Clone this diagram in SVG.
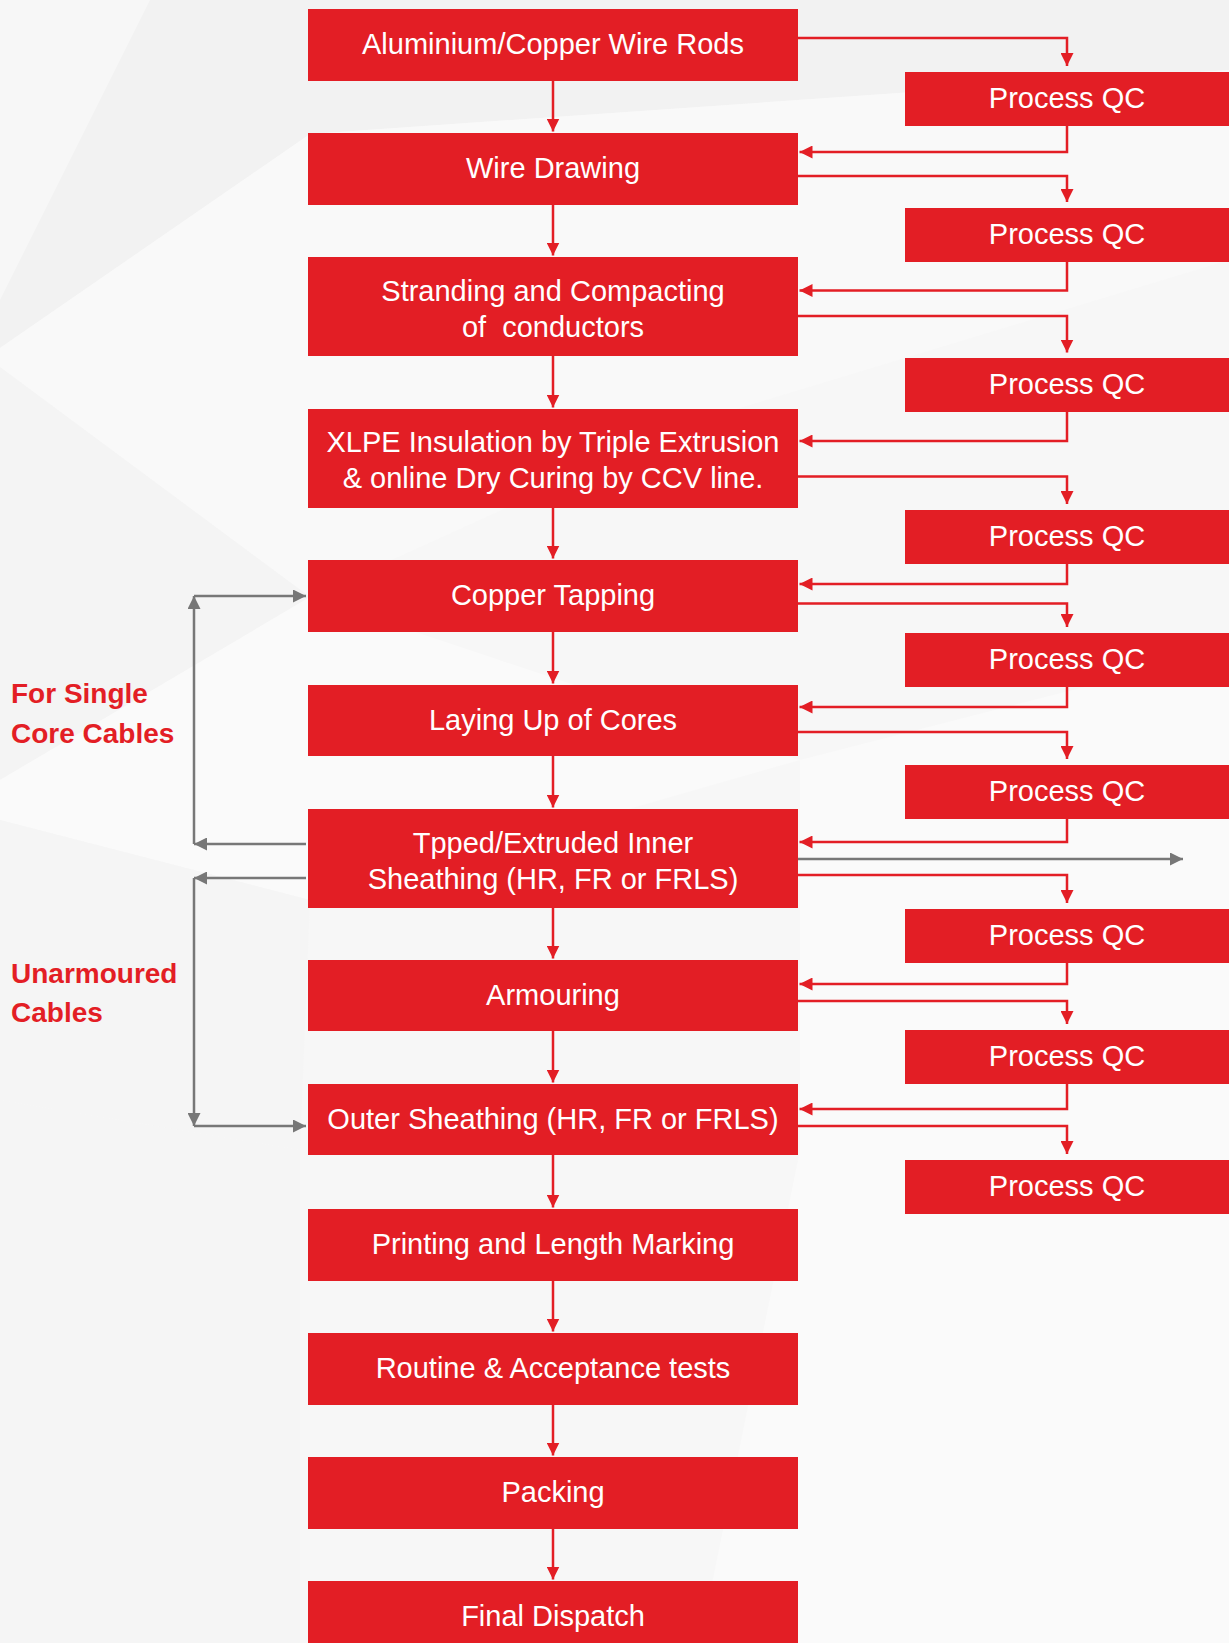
<svg xmlns="http://www.w3.org/2000/svg" width="1229" height="1643" viewBox="0 0 1229 1643">
<defs>
<style>
.box{fill:#e31e25}
.t{font-family:"Liberation Sans",Arial,sans-serif;font-size:29px;fill:#ffffff;text-anchor:middle}
.lbl{font-family:"Liberation Sans",Arial,sans-serif;font-size:28px;font-weight:bold;fill:#e31e25}
.r{fill:none;stroke:#e31e25;stroke-width:2.5;marker-end:url(#ar)}
.g{fill:none;stroke:#777777;stroke-width:2.5;marker-end:url(#ag)}
</style>
<marker id="ar" viewBox="0 0 13 13" markerWidth="13" markerHeight="13" refX="13" refY="6.5" orient="auto" markerUnits="userSpaceOnUse"><path d="M0,0 L13,6.5 L0,13 z" fill="#e31e25"/></marker>
<marker id="ag" viewBox="0 0 13 13" markerWidth="13" markerHeight="13" refX="13" refY="6.5" orient="auto" markerUnits="userSpaceOnUse"><path d="M0,0 L13,6.5 L0,13 z" fill="#777777"/></marker>
</defs>
<g id="background">
<rect x="0" y="0" width="1229" height="1643" fill="#f7f7f7"/>
<polygon points="150,0 1229,0 1229,70 310,134 0,348 0,300" fill="#f2f2f2"/>
<polygon points="0,348 310,134 1229,70 1229,260 700,420 310,597 0,367" fill="#f9f9f9"/>
<polygon points="0,367 310,597 0,780" fill="#f4f4f4"/>
<polygon points="0,780 310,597 800,760 310,900 0,820" fill="#fafafa"/>
<polygon points="0,820 310,900 300,1150 0,1100" fill="#f5f5f5"/>
<polygon points="800,760 1229,650 1229,1643 700,1643 800,1150" fill="#fafafa"/>
<polygon points="0,1100 300,1150 300,1643 0,1643" fill="#f5f5f5"/>
</g>
<g id="connectors">
<path class="r" d="M553,81 V131.5"/>
<path class="r" d="M553,205 V255.5"/>
<path class="r" d="M553,356 V407.5"/>
<path class="r" d="M553,508 V558.5"/>
<path class="r" d="M553,632 V683.5"/>
<path class="r" d="M553,756 V807.5"/>
<path class="r" d="M553,908 V958.5"/>
<path class="r" d="M553,1031 V1082.5"/>
<path class="r" d="M553,1155 V1207.5"/>
<path class="r" d="M553,1281 V1331.5"/>
<path class="r" d="M553,1405 V1455.5"/>
<path class="r" d="M553,1529 V1579.5"/>
<path class="r" d="M798,38 H1067 V66"/>
<path class="r" d="M798,176 H1067 V202"/>
<path class="r" d="M798,316 H1067 V352.5"/>
<path class="r" d="M798,476.5 H1067 V504"/>
<path class="r" d="M798,603.5 H1067 V627"/>
<path class="r" d="M798,732 H1067 V759"/>
<path class="r" d="M798,875 H1067 V903"/>
<path class="r" d="M798,1001 H1067 V1024"/>
<path class="r" d="M798,1126 H1067 V1154"/>
<path class="r" d="M1067,126 V152 H799.5"/>
<path class="r" d="M1067,262 V290.5 H799.5"/>
<path class="r" d="M1067,412 V441 H799.5"/>
<path class="r" d="M1067,564 V584 H799.5"/>
<path class="r" d="M1067,687 V707 H799.5"/>
<path class="r" d="M1067,819 V842 H799.5"/>
<path class="r" d="M1067,963 V984 H799.5"/>
<path class="r" d="M1067,1084 V1109 H799.5"/>
<path class="g" d="M798,859 H1183"/>
<path class="g" d="M306,844 H194"/>
<path class="g" d="M194,844 V596"/>
<path class="g" d="M194,596 H306"/>
<path class="g" d="M306,878 H194"/>
<path class="g" d="M194,878 V1126"/>
<path class="g" d="M194,1126 H306"/>
</g>
<g id="n1"><rect class="box" x="308" y="9" width="490" height="72"/><text class="t" x="553" y="54">Aluminium/Copper Wire Rods</text></g>
<g id="n2"><rect class="box" x="308" y="133" width="490" height="72"/><text class="t" x="553" y="178">Wire Drawing</text></g>
<g id="n3"><rect class="box" x="308" y="257" width="490" height="99"/><text class="t" x="553" y="301">Stranding and Compacting</text><text class="t" x="553" y="337" style="white-space:pre">of  conductors</text></g>
<g id="n4"><rect class="box" x="308" y="409" width="490" height="99"/><text class="t" x="553" y="452">XLPE Insulation by Triple Extrusion</text><text class="t" x="553" y="488">&amp; online Dry Curing by CCV line.</text></g>
<g id="n5"><rect class="box" x="308" y="560" width="490" height="72"/><text class="t" x="553" y="605">Copper Tapping</text></g>
<g id="n6"><rect class="box" x="308" y="685" width="490" height="71"/><text class="t" x="553" y="729.5">Laying Up of Cores</text></g>
<g id="n7"><rect class="box" x="308" y="809" width="490" height="99"/><text class="t" x="553" y="853">Tpped/Extruded Inner</text><text class="t" x="553" y="889">Sheathing (HR, FR or FRLS)</text></g>
<g id="n8"><rect class="box" x="308" y="960" width="490" height="71"/><text class="t" x="553" y="1004.5">Armouring</text></g>
<g id="n9"><rect class="box" x="308" y="1084" width="490" height="71"/><text class="t" x="553" y="1128.5">Outer Sheathing (HR, FR or FRLS)</text></g>
<g id="n10"><rect class="box" x="308" y="1209" width="490" height="72"/><text class="t" x="553" y="1254">Printing and Length Marking</text></g>
<g id="n11"><rect class="box" x="308" y="1333" width="490" height="72"/><text class="t" x="553" y="1378">Routine &amp; Acceptance tests</text></g>
<g id="n12"><rect class="box" x="308" y="1457" width="490" height="72"/><text class="t" x="553" y="1502">Packing</text></g>
<g id="n13"><rect class="box" x="308" y="1581" width="490" height="70"/><text class="t" x="553" y="1626">Final Dispatch</text></g>
<g id="qc1"><rect class="box" x="905" y="72" width="330" height="54"/><text class="t" x="1067" y="108">Process QC</text></g>
<g id="qc2"><rect class="box" x="905" y="208" width="330" height="54"/><text class="t" x="1067" y="244">Process QC</text></g>
<g id="qc3"><rect class="box" x="905" y="358" width="330" height="54"/><text class="t" x="1067" y="394">Process QC</text></g>
<g id="qc4"><rect class="box" x="905" y="510" width="330" height="54"/><text class="t" x="1067" y="546">Process QC</text></g>
<g id="qc5"><rect class="box" x="905" y="633" width="330" height="54"/><text class="t" x="1067" y="669">Process QC</text></g>
<g id="qc6"><rect class="box" x="905" y="765" width="330" height="54"/><text class="t" x="1067" y="801">Process QC</text></g>
<g id="qc7"><rect class="box" x="905" y="909" width="330" height="54"/><text class="t" x="1067" y="945">Process QC</text></g>
<g id="qc8"><rect class="box" x="905" y="1030" width="330" height="54"/><text class="t" x="1067" y="1066">Process QC</text></g>
<g id="qc9"><rect class="box" x="905" y="1160" width="330" height="54"/><text class="t" x="1067" y="1196">Process QC</text></g>
<g id="label-single"><text class="lbl" x="11" y="703">For Single</text><text class="lbl" x="11" y="743">Core Cables</text></g>
<g id="label-unarmoured"><text class="lbl" x="11" y="983">Unarmoured</text><text class="lbl" x="11" y="1022">Cables</text></g>
</svg>
